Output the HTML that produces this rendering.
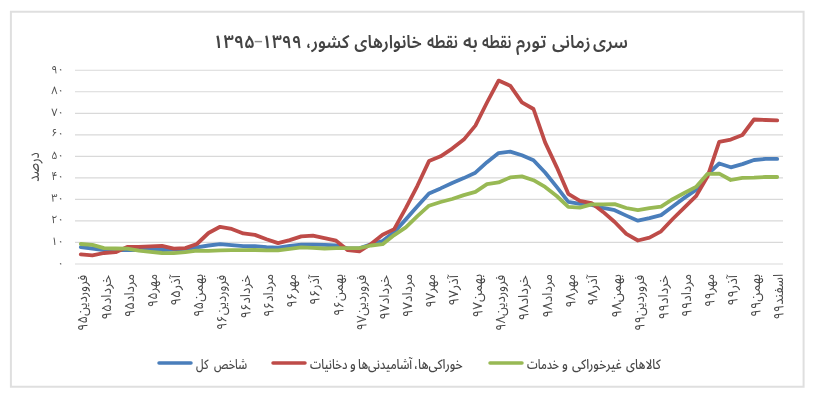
<!DOCTYPE html>
<html><head><meta charset="utf-8"><style>
*{margin:0;padding:0;box-sizing:border-box}
html,body{width:830px;height:400px;background:#fff;overflow:hidden}
body{position:relative;font-family:'Noto Sans Arabic','DejaVu Sans','Liberation Sans',sans-serif;color:#595959}
svg{position:absolute;left:0;top:0}
.t{position:absolute;white-space:nowrap;direction:rtl}
#title{position:absolute;left:0;top:29px;width:830px;height:28px;font-size:16.6px;font-weight:600;line-height:28px;color:#444;direction:rtl}
#title span{position:absolute;top:0;white-space:nowrap;transform-origin:0 17.8px}
.yl{position:absolute;right:766.2px;width:30px;text-align:right;font-size:11px;line-height:16px;direction:rtl;color:#505050}
.xl{position:absolute;top:275px;width:0;height:0;}
.xl span{position:absolute;right:0;top:0;font-size:13.5px;font-weight:400;color:#484848;line-height:14px;white-space:nowrap;direction:rtl;transform-origin:right top;}
.lg{position:absolute;left:0;top:355px;width:830px;height:20px;font-size:13.5px;font-weight:500;color:#474747;line-height:20px;direction:rtl}
.lg span{position:absolute;top:0;white-space:nowrap;transform-origin:0 50%}
</style></head><body>
<svg width="830" height="400" viewBox="0 0 830 400">
<rect x="10.9" y="11.75" width="792.7" height="375" fill="none" stroke="#dfdfdf" stroke-width="2"/>
<g stroke="#d9d9d9" stroke-width="1.2"><line x1="75" x2="783" y1="264.00" y2="264.00"/><line x1="75" x2="783" y1="242.47" y2="242.47"/><line x1="75" x2="783" y1="220.94" y2="220.94"/><line x1="75" x2="783" y1="199.41" y2="199.41"/><line x1="75" x2="783" y1="177.88" y2="177.88"/><line x1="75" x2="783" y1="156.35" y2="156.35"/><line x1="75" x2="783" y1="134.82" y2="134.82"/><line x1="75" x2="783" y1="113.29" y2="113.29"/><line x1="75" x2="783" y1="91.76" y2="91.76"/><line x1="75" x2="783" y1="70.23" y2="70.23"/></g>
<g fill="none" stroke-width="3.8" stroke-linejoin="round" stroke-linecap="round">
<polyline stroke="#4a7ebb" points="80.8,247.2 92.4,248.5 104.0,250.2 115.6,250.2 127.2,250.0 138.8,250.0 150.4,249.6 162.0,250.0 173.7,249.6 185.3,248.9 196.9,247.4 208.5,245.5 220.1,244.2 231.7,245.1 243.3,246.1 254.9,246.1 266.5,247.2 278.1,247.6 289.7,245.9 301.3,244.6 312.9,244.6 324.5,244.8 336.1,245.5 347.8,248.3 359.4,248.3 371.0,244.2 382.6,241.0 394.2,232.1 405.8,219.4 417.4,206.3 429.0,193.4 440.6,188.4 452.2,183.0 463.8,178.1 475.4,172.7 487.0,162.2 498.6,153.1 510.2,151.6 521.9,155.3 533.5,160.2 545.1,172.5 556.7,186.9 568.3,201.8 579.9,203.9 591.5,204.8 603.1,207.8 614.7,210.2 626.3,215.6 637.9,220.7 649.5,218.1 661.1,215.1 672.7,206.5 684.3,197.9 696.0,189.9 707.6,174.4 719.2,163.5 730.8,167.3 742.4,164.1 754.0,160.0 765.6,158.9 777.2,158.9"/>
<polyline stroke="#be4b48" points="80.8,254.3 92.4,255.4 104.0,253.0 115.6,252.2 127.2,247.0 138.8,246.8 150.4,246.3 162.0,245.9 173.7,248.7 185.3,248.1 196.9,244.0 208.5,233.0 220.1,226.8 231.7,228.9 243.3,233.4 254.9,234.9 266.5,239.2 278.1,243.1 289.7,240.1 301.3,236.4 312.9,235.6 324.5,238.2 336.1,240.7 347.8,250.2 359.4,251.3 371.0,244.0 382.6,234.7 394.2,229.1 405.8,208.2 417.4,185.8 429.0,161.1 440.6,156.3 452.2,148.6 463.8,139.6 475.4,125.6 487.0,102.5 498.6,80.6 510.2,85.7 521.9,102.3 533.5,109.0 545.1,142.4 556.7,167.1 568.3,193.8 579.9,200.9 591.5,203.1 603.1,211.9 614.7,222.0 626.3,233.9 637.9,240.5 649.5,237.7 661.1,231.3 672.7,219.0 684.3,207.6 696.0,196.2 707.6,176.4 719.2,141.9 730.8,139.6 742.4,135.0 754.0,119.5 765.6,120.0 777.2,120.4"/>
<polyline stroke="#98b954" points="80.8,244.0 92.4,244.8 104.0,248.1 115.6,248.5 127.2,248.7 138.8,250.7 150.4,251.9 162.0,253.0 173.7,253.2 185.3,252.2 196.9,250.7 208.5,250.9 220.1,250.4 231.7,250.2 243.3,250.2 254.9,250.0 266.5,250.4 278.1,250.4 289.7,248.9 301.3,247.4 312.9,247.9 324.5,248.5 336.1,248.1 347.8,248.1 359.4,248.1 371.0,245.5 382.6,244.2 394.2,235.1 405.8,227.4 417.4,216.2 429.0,205.7 440.6,202.0 452.2,199.0 463.8,195.1 475.4,191.9 487.0,184.1 498.6,182.4 510.2,177.4 521.9,176.4 533.5,180.2 545.1,186.9 556.7,196.0 568.3,206.9 579.9,207.6 591.5,204.4 603.1,204.4 614.7,204.1 626.3,208.0 637.9,210.2 649.5,208.2 661.1,206.7 672.7,199.2 684.3,193.0 696.0,186.9 707.6,173.8 719.2,173.6 730.8,180.0 742.4,177.9 754.0,177.7 765.6,177.0 777.2,177.0"/>
</g>
<g stroke-width="3.5" stroke-linecap="round">
<line x1="159" x2="191" y1="363" y2="363" stroke="#4a7ebb"/>
<line x1="273" x2="305" y1="363" y2="363" stroke="#be4b48"/>
<line x1="490" x2="522" y1="363" y2="363" stroke="#98b954"/>
</g>
</svg>
<div id="title"><span style="left:593.20px;transform:scale(0.994,1.1)">سری</span> <span style="left:551.70px;transform:scale(1.011,1.1)">زمانی</span> <span style="left:516.00px;transform:scale(1.068,1.1)">تورم</span> <span style="left:481.70px;transform:scale(0.853,1.1)">نقطه</span> <span style="left:462.90px;transform:scale(1.077,1.1)">به</span> <span style="left:426.70px;transform:scale(0.894,1.1)">نقطه</span> <span style="left:354.30px;transform:scale(1.000,1.1)">خانوارهای</span> <span style="left:305.90px;transform:scale(0.998,1.1)">کشور،</span> <span style="left:261.77px;transform:scale(1.044,1.1)">۱۳۹۹</span> <span style="left:254.14px;transform:scale(1.057,1.1);top:-1px;font-weight:400;color:#8c8c8c">–</span> <span style="left:213.02px;transform:scale(1.094,1.1)">۱۳۹۵</span></div>
<div class="yl" style="top:255.5px">۰</div><div class="yl" style="top:234.0px">۱۰</div><div class="yl" style="top:212.4px">۲۰</div><div class="yl" style="top:190.9px">۳۰</div><div class="yl" style="top:169.4px">۴۰</div><div class="yl" style="top:147.8px">۵۰</div><div class="yl" style="top:126.3px">۶۰</div><div class="yl" style="top:104.8px">۷۰</div><div class="yl" style="top:83.3px">۸۰</div><div class="yl" style="top:61.7px">۹۰</div>
<div class="t" id="ytitle" style="left:34px;top:167px;font-size:13px;font-weight:400;color:#505050;transform:translate(-50%,-50%) rotate(-90deg) scaleY(1.25);line-height:16px">درصد</div>
<div id="xls"><div class="xl" style="left:80.8px;top:274.80px"><span style="transform:translate(-4.7px,0) rotate(-90deg) scaleX(0.970)">فروردین۹۵</span></div><div class="xl" style="left:104.0px;top:274.80px"><span style="transform:translate(-4.7px,0) rotate(-90deg) scaleX(1.009)">خرداد۹۵</span></div><div class="xl" style="left:127.2px;top:273.80px"><span style="transform:translate(-4.7px,0) rotate(-90deg) scaleX(0.995)">مرداد۹۵</span></div><div class="xl" style="left:150.4px;top:273.85px"><span style="transform:translate(-4.7px,0) rotate(-90deg) scaleX(0.955)">مهر۹۵</span></div><div class="xl" style="left:173.7px;top:274.80px"><span style="transform:translate(-4.7px,0) rotate(-90deg) scaleX(1.028)">آذر۹۵</span></div><div class="xl" style="left:196.9px;top:273.81px"><span style="transform:translate(-4.7px,0) rotate(-90deg) scaleX(0.988)">بهمن۹۵</span></div><div class="xl" style="left:220.1px;top:274.80px"><span style="transform:translate(-4.7px,0) rotate(-90deg) scaleX(0.954)">فروردین۹۶</span></div><div class="xl" style="left:243.3px;top:274.80px"><span style="transform:translate(-4.7px,0) rotate(-90deg) scaleX(0.981)">خرداد۹۶</span></div><div class="xl" style="left:266.5px;top:273.81px"><span style="transform:translate(-4.7px,0) rotate(-90deg) scaleX(0.988)">مرداد۹۶</span></div><div class="xl" style="left:289.7px;top:273.83px"><span style="transform:translate(-4.7px,0) rotate(-90deg) scaleX(0.970)">مهر۹۶</span></div><div class="xl" style="left:312.9px;top:274.80px"><span style="transform:translate(-4.7px,0) rotate(-90deg) scaleX(0.997)">آذر۹۶</span></div><div class="xl" style="left:336.1px;top:273.84px"><span style="transform:translate(-4.7px,0) rotate(-90deg) scaleX(0.963)">بهمن۹۶</span></div><div class="xl" style="left:359.4px;top:274.80px"><span style="transform:translate(-4.7px,0) rotate(-90deg) scaleX(0.961)">فروردین۹۷</span></div><div class="xl" style="left:382.6px;top:274.80px"><span style="transform:translate(-4.7px,0) rotate(-90deg) scaleX(1.009)">خرداد۹۷</span></div><div class="xl" style="left:405.8px;top:273.80px"><span style="transform:translate(-4.7px,0) rotate(-90deg) scaleX(0.995)">مرداد۹۷</span></div><div class="xl" style="left:429.0px;top:273.83px"><span style="transform:translate(-4.7px,0) rotate(-90deg) scaleX(0.970)">مهر۹۷</span></div><div class="xl" style="left:452.2px;top:274.80px"><span style="transform:translate(-4.7px,0) rotate(-90deg) scaleX(1.028)">آذر۹۷</span></div><div class="xl" style="left:475.4px;top:273.80px"><span style="transform:translate(-4.7px,0) rotate(-90deg) scaleX(0.995)">بهمن۹۷</span></div><div class="xl" style="left:498.6px;top:274.80px"><span style="transform:translate(-4.7px,0) rotate(-90deg) scaleX(0.970)">فروردین۹۸</span></div><div class="xl" style="left:521.9px;top:274.80px"><span style="transform:translate(-4.7px,0) rotate(-90deg) scaleX(1.021)">خرداد۹۸</span></div><div class="xl" style="left:545.1px;top:273.80px"><span style="transform:translate(-4.7px,0) rotate(-90deg) scaleX(1.005)">مرداد۹۸</span></div><div class="xl" style="left:568.3px;top:273.83px"><span style="transform:translate(-4.7px,0) rotate(-90deg) scaleX(0.970)">مهر۹۸</span></div><div class="xl" style="left:591.5px;top:274.80px"><span style="transform:translate(-4.7px,0) rotate(-90deg) scaleX(1.028)">آذر۹۸</span></div><div class="xl" style="left:614.7px;top:273.80px"><span style="transform:translate(-4.7px,0) rotate(-90deg) scaleX(1.005)">بهمن۹۸</span></div><div class="xl" style="left:637.9px;top:274.80px"><span style="transform:translate(-4.7px,0) rotate(-90deg) scaleX(0.970)">فروردین۹۹</span></div><div class="xl" style="left:661.1px;top:274.80px"><span style="transform:translate(-4.7px,0) rotate(-90deg) scaleX(1.000)">خرداد۹۹</span></div><div class="xl" style="left:684.3px;top:273.81px"><span style="transform:translate(-4.7px,0) rotate(-90deg) scaleX(0.985)">مرداد۹۹</span></div><div class="xl" style="left:707.6px;top:273.85px"><span style="transform:translate(-4.7px,0) rotate(-90deg) scaleX(0.948)">مهر۹۹</span></div><div class="xl" style="left:730.8px;top:274.80px"><span style="transform:translate(-4.7px,0) rotate(-90deg) scaleX(1.021)">آذر۹۹</span></div><div class="xl" style="left:754.0px;top:273.81px"><span style="transform:translate(-4.7px,0) rotate(-90deg) scaleX(0.985)">بهمن۹۹</span></div><div class="xl" style="left:777.2px;top:273.85px"><span style="transform:translate(-4.7px,0) rotate(-90deg) scaleX(0.954)">اسفند۹۹</span></div></div>
<div class="lg"><span style="left:214.00px;transform:scaleX(0.788)">شاخص</span> <span style="left:195.90px;transform:scaleX(0.781)">کل</span></div>
<div class="lg"><span style="left:413.82px;transform:scaleX(0.883)">خوراکی‌ها،</span> <span style="left:357.96px;transform:scaleX(0.839)">آشامیدنی‌ها</span> <span style="left:349.68px;transform:scaleX(0.920)">و</span> <span style="left:309.60px;transform:scaleX(0.827)">دخانیات</span></div>
<div class="lg"><span style="left:625.70px;transform:scaleX(0.859)">کالاهای</span> <span style="left:572.30px;transform:scaleX(0.889)">غیرخوراکی</span> <span style="left:562.46px;transform:scaleX(0.940)">و</span> <span style="left:526.50px;transform:scaleX(0.793)">خدمات</span></div>
</body></html>
